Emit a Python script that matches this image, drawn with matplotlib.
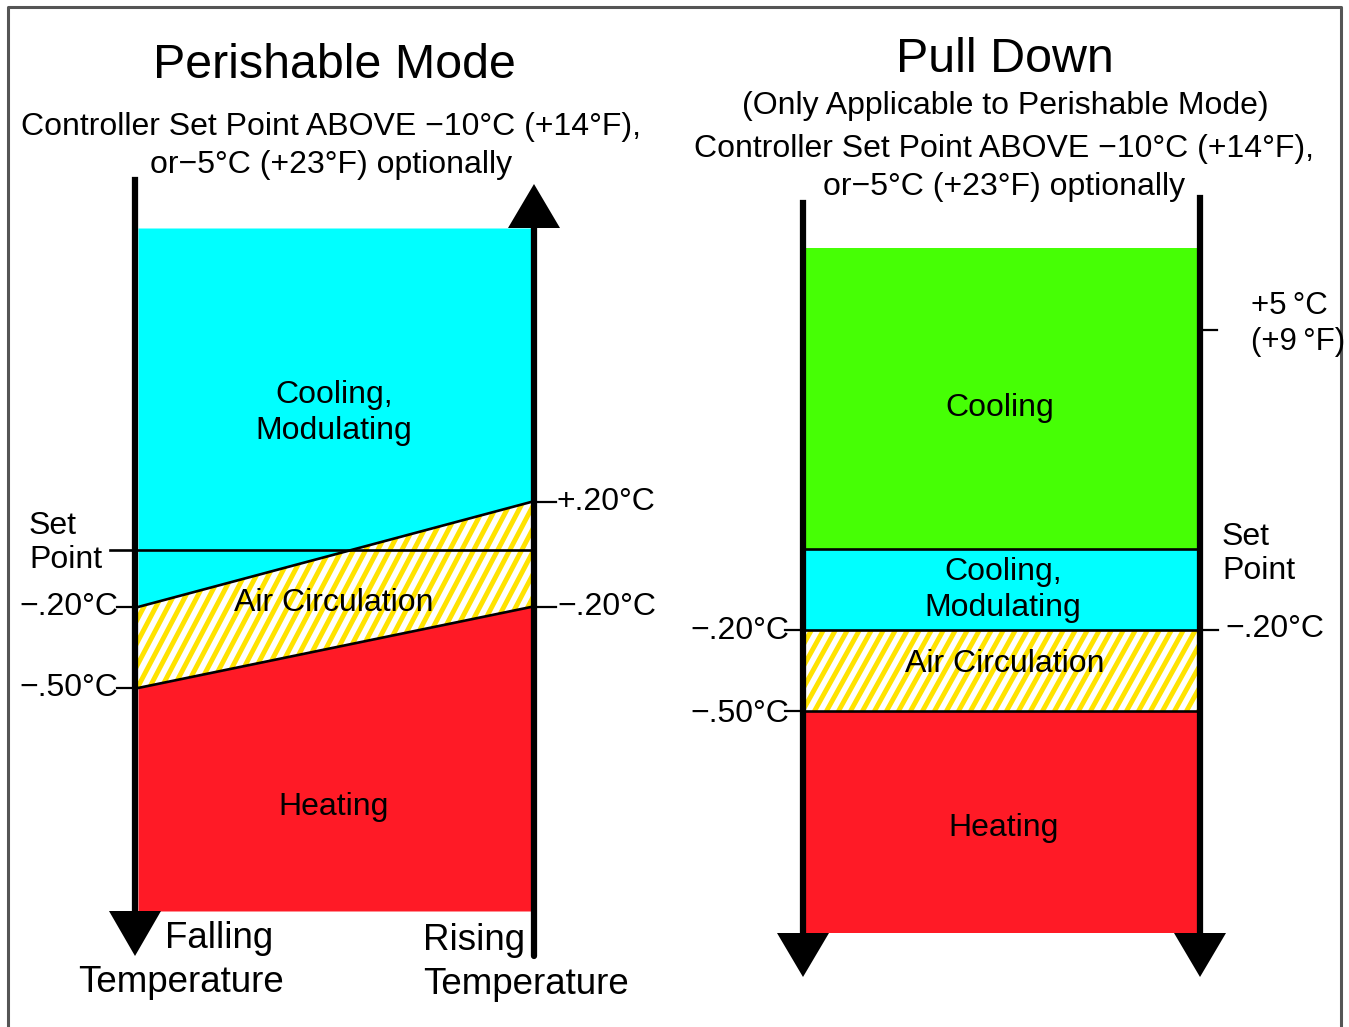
import matplotlib.pyplot as plt
from matplotlib.patches import Polygon

plt.rcParams['font.family'] = ['Liberation Sans', 'DejaVu Sans']

# colours of the modes
cyan = '#00FFFF'
green = '#46FF05'
red = '#FF1A26'
yellow = '#FFE300'

# text of the two panels
titles = ['Perishable Mode', 'Pull Down']
subtitle = 'Controller Set Point ABOVE \u221210\u00b0C (+14\u00b0F),\nor\u22125\u00b0C (+23\u00b0F) optionally'
pd_note = '(Only Applicable to Perishable Mode)'
left_modes = ['Cooling,\nModulating', 'Air Circulation', 'Heating']
right_modes = ['Cooling', 'Cooling,\nModulating', 'Air Circulation', 'Heating']
left_ticks_l = ['\u2212.20\u00b0C', '\u2212.50\u00b0C']
left_ticks_r = ['+.20\u00b0C', '\u2212.20\u00b0C']
right_ticks_l = ['\u2212.20\u00b0C', '\u2212.50\u00b0C']
right_ticks_r = ['\u2212.20\u00b0C']
pull_tick = '+5\u2009\u00b0C\n(+9\u2009\u00b0F)'

fig = plt.figure(figsize=(13.49, 10.27), dpi=100)
ax = fig.add_axes([0, 0, 1, 1])
ax.set_xlim(0, 1349)
ax.set_ylim(1027, 0)
ax.axis('off')

# frame
ax.plot([8, 8, 1341, 1341], [1027, 7, 7, 1027], color='#555555', lw=2.2)

fs = 23


def arrow(x, y0, y1, w=26):
    # triangle head with base at y0, tip at y1
    ax.add_patch(Polygon([(x - w, y0), (x + w, y0), (x, y1)], closed=True,
                         color='black', lw=0, zorder=5))


def striped(pts):
    # white band with yellow "/" stripes clipped to it
    band = Polygon(pts, closed=True, facecolor='white', lw=0, zorder=2)
    ax.add_patch(band)
    xs_ = [p[0] for p in pts]
    ys_ = [p[1] for p in pts]
    x0, x1 = min(xs_), max(xs_)
    y0, y1 = min(ys_), max(ys_)
    h = y1 - y0
    c = x0 - h - 12
    while c < x1 + 12:
        ln, = ax.plot([c, c + h + 20], [y1 + 10, y0 - h - 10], color=yellow,
                      lw=3.5, zorder=3, solid_capstyle='butt')
        ln.set_clip_path(band)
        c += 12


# ---------- Perishable Mode ----------
xl, xr = 138, 531
top, bot = 228, 911
up_l, up_r = 607, 502   # upper edge of air circulation band
lo_l, lo_r = 688, 607   # lower edge
xs = [xl, xr]
ax.fill_between(xs, [top, top], [up_l, up_r], color=cyan, lw=0)
striped([(xl, up_l), (xr, up_r), (xr, lo_r), (xl, lo_l)])
ax.fill_between(xs, [lo_l, lo_r], [bot, bot], color=red, lw=0)
ax.plot(xs, [up_l, up_r], color='black', lw=1.9, zorder=4)
ax.plot(xs, [lo_l, lo_r], color='black', lw=1.9, zorder=4)
ax.plot([110, xr], [550, 550], color='black', lw=1.9, zorder=4)

ax.plot([135, 135], [180, 915], color='black', lw=4.5, zorder=5)
arrow(135, 911, 956)
ax.plot([534, 534], [225, 956], color='black', lw=4.5, zorder=5,
        solid_capstyle='round')
arrow(534, 228, 184)

for y in [up_l, lo_l]:
    ax.plot([117, 135], [y, y], color='black', lw=1.6)
for y in [up_r, lo_r]:
    ax.plot([534, 556], [y, y], color='black', lw=1.6)
for lab, y in zip(left_ticks_l, [up_l, lo_l]):
    ax.text(118, y, lab, ha='right', va='center', fontsize=fs)
for lab, y in zip(left_ticks_r, [up_r, lo_r]):
    ax.text(557, y, lab, ha='left', va='center', fontsize=fs)

ax.text(29, 543, 'Set\nPoint', ha='left', va='center', fontsize=fs,
        linespacing=1.18)
ax.text(334, 65, titles[0], ha='center', va='center', fontsize=34.8)
ax.text(331, 146, subtitle, ha='center', va='center', fontsize=fs,
        linespacing=1.33)
ax.text(334, 413, left_modes[0], ha='center', va='center', fontsize=fs,
        linespacing=1.28)
ax.text(334, 603, left_modes[1], ha='center', va='center', fontsize=fs, zorder=6)
ax.text(334, 807, left_modes[2], ha='center', va='center', fontsize=fs)
ax.text(165, 939, 'Falling', ha='left', va='center', fontsize=26.5)
ax.text(181, 983, 'Temperature', ha='center', va='center', fontsize=26.5)
ax.text(525, 940, 'Rising', ha='right', va='center', fontsize=26.5)
ax.text(423, 984, 'Temperature', ha='left', va='center', fontsize=26.5)

# ---------- Pull Down ----------
xl2, xr2 = 806, 1197
edges = [248, 549, 630, 711, 933]
colors = [green, cyan, None, red]
xs2 = [xl2, xr2]
for i, c in enumerate(colors):
    y0, y1 = edges[i], edges[i + 1]
    if c is None:
        striped([(xl2, y0), (xr2, y0), (xr2, y1), (xl2, y1)])
    else:
        ax.fill_between(xs2, [y0, y0], [y1, y1], color=c, lw=0)
for y in edges[1:4]:
    ax.plot(xs2, [y, y], color='black', lw=1.9, zorder=4)

ax.plot([803, 803], [203, 935], color='black', lw=4.5, zorder=5)
ax.plot([1200, 1200], [198, 935], color='black', lw=4.5, zorder=5)
arrow(803, 933, 977)
arrow(1200, 933, 977)

for y in edges[2:4]:
    ax.plot([785, 803], [y, y], color='black', lw=1.6)
ax.plot([1200, 1218], [edges[2], edges[2]], color='black', lw=1.6)
ax.plot([1200, 1217], [330, 330], color='black', lw=1.6)
for lab, y in zip(right_ticks_l, [edges[2] + 1, edges[3] + 3]):
    ax.text(789, y, lab, ha='right', va='center', fontsize=fs)
ax.text(1225, edges[2] - 1, right_ticks_r[0], ha='left', va='center', fontsize=fs)
ax.text(1251, 324, pull_tick, ha='left', va='center', fontsize=22.5,
        linespacing=1.3)
ax.text(1222, 554, 'Set\nPoint', ha='left', va='center', fontsize=fs,
        linespacing=1.18)

ax.text(1005, 60, titles[1], ha='center', va='center', fontsize=34.8)
ax.text(1005, 106, pd_note, ha='center', va='center', fontsize=fs)
ax.text(1004, 168, subtitle, ha='center', va='center', fontsize=fs,
        linespacing=1.33)
ax.text(1000, 408, right_modes[0], ha='center', va='center', fontsize=fs)
ax.text(1003, 590, right_modes[1], ha='center', va='center', fontsize=fs,
        linespacing=1.28)
ax.text(1005, 664, right_modes[2], ha='center', va='center', fontsize=fs,
        zorder=6)
ax.text(1004, 828, right_modes[3], ha='center', va='center', fontsize=fs)

fig.savefig('out.png', dpi=100)
